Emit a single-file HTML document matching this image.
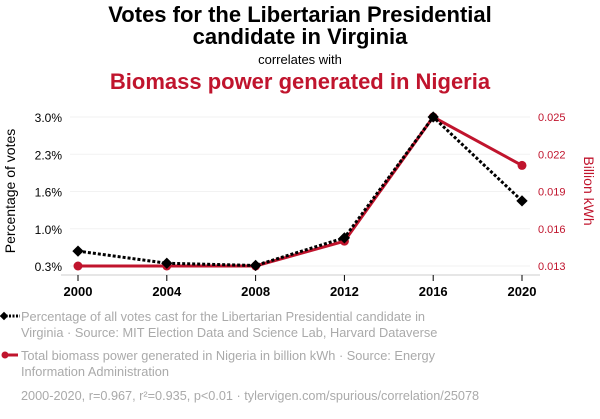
<!DOCTYPE html>
<html><head><meta charset="utf-8"><style>
body{margin:0;background:#fff;width:600px;height:414px;overflow:hidden;font-family:"Liberation Sans",sans-serif}
svg text{font-family:"Liberation Sans",sans-serif}
</style></head><body>
<svg id="chart" width="600" height="414">
<text x="300" y="22" text-anchor="middle" font-size="22" font-weight="bold" fill="#000">Votes for the Libertarian Presidential</text>
<text x="300" y="44" text-anchor="middle" font-size="22" font-weight="bold" fill="#000">candidate in Virginia</text>
<text x="300" y="64" text-anchor="middle" font-size="13" fill="#000">correlates with</text>
<text x="300" y="89" text-anchor="middle" font-size="22" font-weight="bold" fill="#c0142d">Biomass power generated in Nigeria</text>
<g id="grid"></g>
<line x1="61" y1="275" x2="540" y2="275" stroke="#ccc"/>
<g id="xticks"></g><g id="lyt"></g><g id="ryt"></g>
<text transform="translate(15,191) rotate(-90)" text-anchor="middle" font-size="14" fill="#000">Percentage of votes</text>
<text transform="translate(584,191) rotate(90)" text-anchor="middle" font-size="14" fill="#c0142d">Billion kWh</text>
<g id="series"></g>
<g>
<line x1="2" y1="316" x2="20" y2="316" stroke="#000" stroke-width="3" stroke-dasharray="2,1.5"/>
<rect x="1" y="313" width="6" height="6" transform="rotate(45 4 316)" fill="#000"/>
<text x="21" y="321" font-size="12.8" fill="#aaa">Percentage of all votes cast for the Libertarian Presidential candidate in</text>
<text x="21" y="337" font-size="12.8" fill="#aaa">Virginia · Source: MIT Election Data and Science Lab, Harvard Dataverse</text>
</g>
<g>
<line x1="3" y1="355" x2="18" y2="355" stroke="#c0142d" stroke-width="3"/>
<circle cx="5" cy="355" r="3.5" fill="#c0142d"/>
<text x="21" y="360" font-size="12.8" fill="#aaa">Total biomass power generated in Nigeria in billion kWh · Source: Energy</text>
<text x="21" y="376" font-size="12.8" fill="#aaa">Information Administration</text>
</g>
<text x="21" y="400" font-size="12.7" fill="#aaa">2000-2020, r=0.967, r²=0.935, p&lt;0.01 · tylervigen.com/spurious/correlation/25078</text>
</svg>
<script>
const years=[2000,2004,2008,2012,2016,2020];
const votes=[0.57,0.35,0.31,0.81,3.0,1.48];
const biomass=[0.013,0.013,0.013,0.015,0.025,0.0211];
const leftTicks=[0.3,0.975,1.65,2.325,3.0];
const leftLabels=["0.3%","1.0%","1.6%","2.3%","3.0%"];
const rightTicks=[0.013,0.016,0.019,0.022,0.025];
const rightLabels=["0.013","0.016","0.019","0.022","0.025"];
const NS="http://www.w3.org/2000/svg";
const x=v=>78+(v-2000)/20*444;
const yl=v=>266-(v-0.3)/2.7*149;
const yr=v=>266-(v-0.013)/0.012*149;
function mk(t,a,p){const e=document.createElementNS(NS,t);for(const k in a)e.setAttribute(k,a[k]);document.getElementById(p).appendChild(e);return e;}
leftTicks.forEach((t,i)=>{
 const g=mk('line',{x1:70,x2:530,y1:yl(t),y2:yl(t),stroke:'#f2f2f2'},'grid');
 
 
 const l=mk('text',{x:62,y:yl(t)+5,'text-anchor':'end','font-size':12,fill:'#000'},'lyt');l.textContent=leftLabels[i];
 
 
});
rightTicks.forEach((t,i)=>{
 const l=mk('text',{x:538,y:yr(t)+4,'font-size':11,fill:'#c0142d'},'ryt');l.textContent=rightLabels[i];
 
 
});
years.forEach(yv=>{
 const tk=mk('line',{x1:x(yv),x2:x(yv),y1:275,y2:281,stroke:'#000'},'xticks');
 
 
 const l=mk('text',{x:x(yv),y:296,'text-anchor':'middle','font-size':13,'font-weight':'bold',fill:'#000'},'xticks');l.textContent=yv;
 
 
});
const rp=mk('polyline',{points:years.map((v,i)=>x(v)+','+yr(biomass[i])).join(' '),fill:'none',stroke:'#c0142d','stroke-width':3},'series');


years.forEach((v,i)=>{const c=mk('circle',{cx:x(v),cy:yr(biomass[i]),r:4.5,fill:'#c0142d'},'series');
 
 });
const bp=mk('polyline',{points:years.map((v,i)=>x(v)+','+yl(votes[i])).join(' '),fill:'none',stroke:'#000','stroke-width':3,'stroke-dasharray':'3,2'},'series');


years.forEach((v,i)=>{const cx=x(v),cy=yl(votes[i]);const r=mk('rect',{x:cx-4,y:cy-4,width:8,height:8,fill:'#000',transform:`rotate(45 ${cx} ${cy})`},'series');
 
 });
</script>
</body></html>
